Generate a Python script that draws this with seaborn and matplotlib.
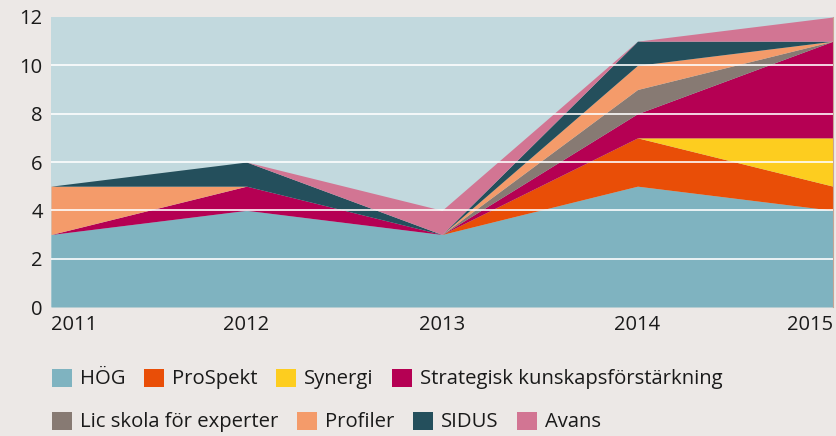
import matplotlib
matplotlib.use("Agg")
import matplotlib.pyplot as plt
import seaborn as sns
import pandas as pd
from matplotlib.patches import Patch

years = [2011, 2012, 2013, 2014, 2015]
series_names = ["HÖG", "ProSpekt", "Synergi", "Strategisk kunskapsförstärkning",
                "Lic skola för experter", "Profiler", "SIDUS", "Avans"]
hog = [3, 4, 3, 5, 4]
prospekt = [0, 0, 0, 2, 1]
synergi = [0, 0, 0, 0, 2]
strategisk = [0, 1, 0, 1, 4]
lic = [0, 0, 0, 1, 0]
profiler = [2, 0, 0, 1, 0]
sidus = [0, 1, 0, 1, 0]
avans = [0, 0, 1, 0, 1]
y_ticks = [0, 2, 4, 6, 8, 10, 12]

colors = ["#7fb3c0", "#e94e07", "#fdcd1f", "#b50053",
          "#877a73", "#f49b6a", "#244f5c", "#d27593"]

df = pd.DataFrame({"year": years, "HÖG": hog, "ProSpekt": prospekt, "Synergi": synergi,
                   "Strategisk kunskapsförstärkning": strategisk,
                   "Lic skola för experter": lic, "Profiler": profiler,
                   "SIDUS": sidus, "Avans": avans})

sns.set_theme(style="white")
plt.rcParams["font.family"] = ["Open Sans", "DejaVu Sans"]

BG = "#ece8e6"
AXBG = "#c2d9de"
TXT = "#1a1a1a"

fig = plt.figure(figsize=(8.36, 4.36), dpi=100, facecolor=BG)
ax = fig.add_axes([51/836, 1 - 307/436, (833-51)/836, (307-17)/436])
ax.set_facecolor(AXBG)

ax.stackplot(df["year"], [df[n] for n in series_names], colors=colors,
             linewidth=0, zorder=2)

ax.set_xlim(years[0], years[-1])
ax.set_ylim(0, 12)
ax.set_yticks(y_ticks)
ax.set_xticks(years)
ax.set_xticklabels([str(y) for y in years])
for y in y_ticks[1:-1]:
    ax.axhline(y, color="white", lw=1.3, alpha=0.9, zorder=3)

ax.tick_params(axis="both", length=0, labelsize=14.5, colors=TXT)
ax.tick_params(axis="x", pad=6)
ax.tick_params(axis="y", pad=6)
xl = ax.get_xticklabels()
xl[0].set_ha("left")
xl[-1].set_ha("right")

for s in ["top", "left", "bottom"]:
    ax.spines[s].set_visible(False)
ax.spines["right"].set_color("#c9a394")
ax.spines["right"].set_linewidth(0.8)

handles = [Patch(facecolor=c, edgecolor="none") for c in colors]
common = dict(frameon=False, fontsize=14.6, handlelength=0.99, handleheight=0.99,
              handletextpad=0.4, columnspacing=0.9, borderpad=0, borderaxespad=0,
              ncol=4, labelcolor=TXT, loc="center left")
leg1 = fig.legend(handles[:4], series_names[:4], bbox_to_anchor=(52/836, 1 - 379/436), **common)
leg2 = fig.legend(handles[4:], series_names[4:], bbox_to_anchor=(52/836, 1 - 422/436), **common)

fig.savefig("out.png", dpi=100, facecolor=BG)
